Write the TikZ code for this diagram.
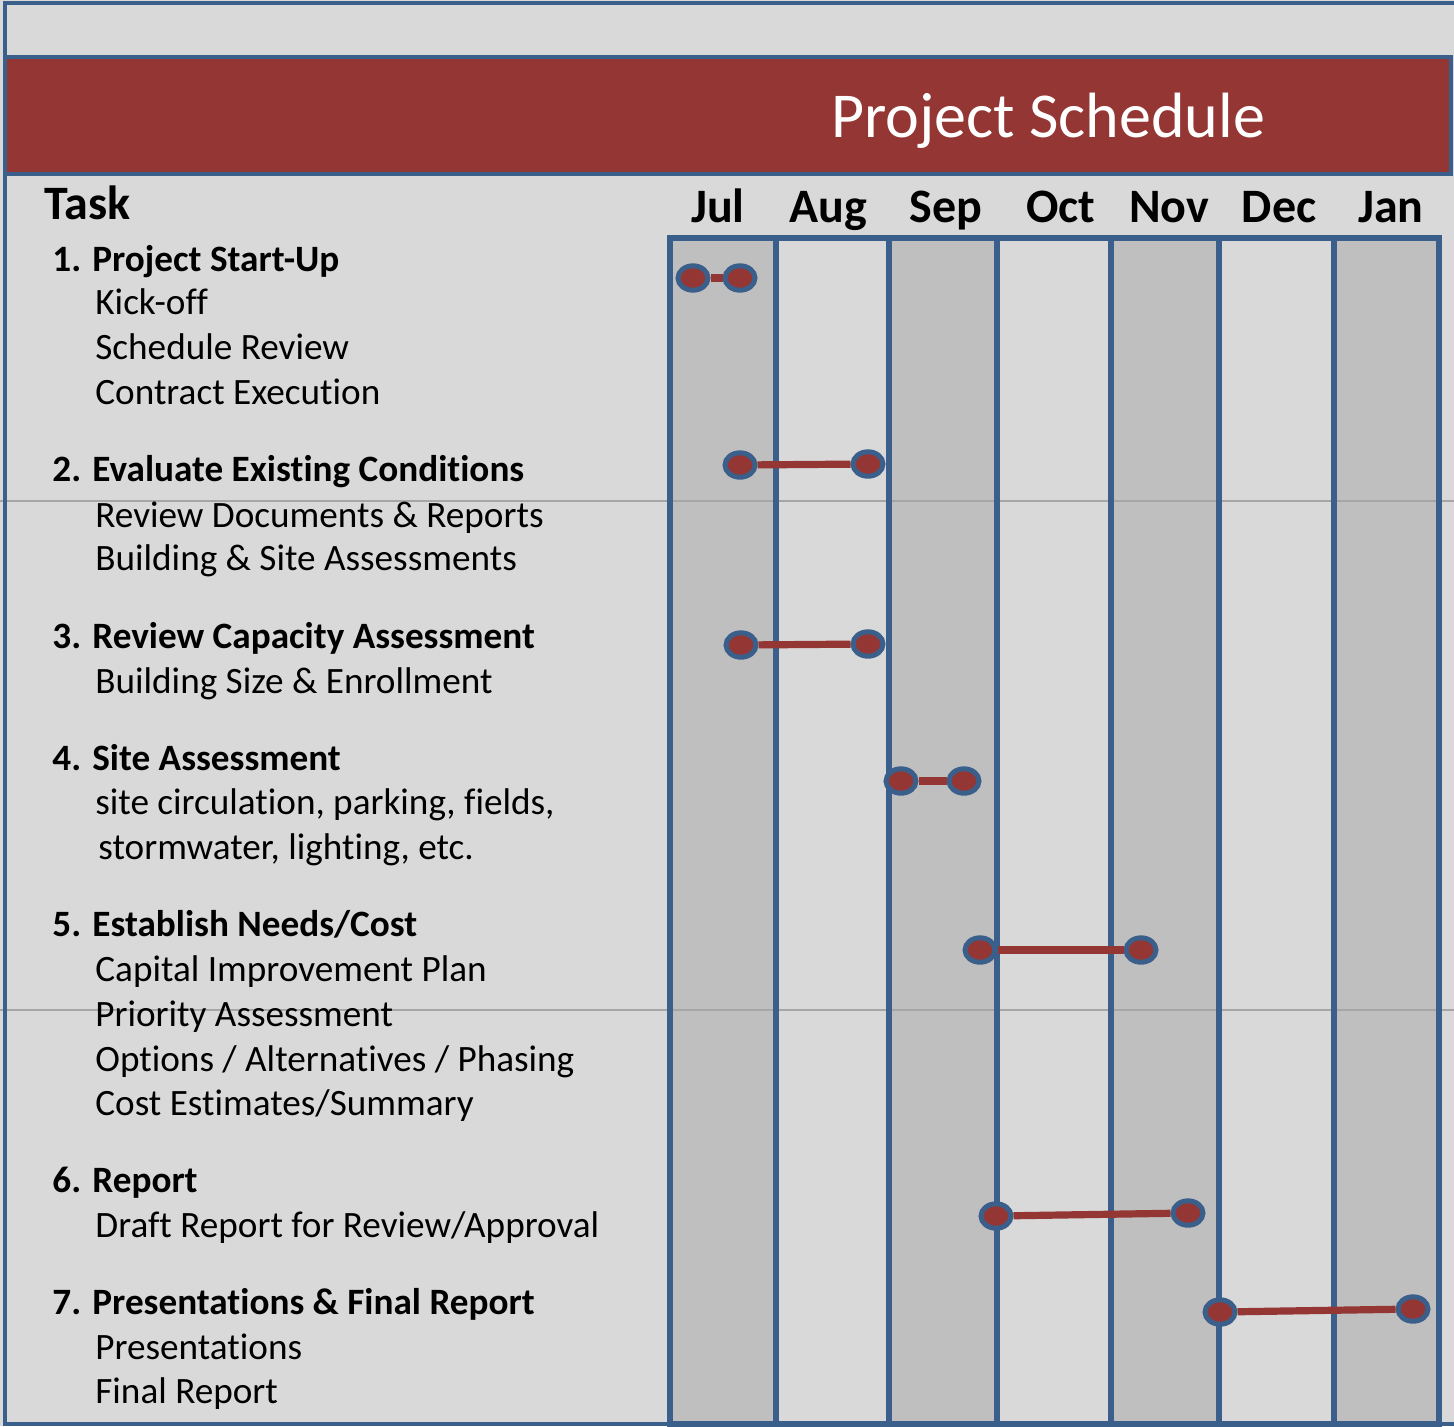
\documentclass[tikz,border=0pt]{standalone}
\usepackage{fontspec}
\setmainfont{Carlito}[Ligatures=NoCommon]
\usepackage{tikz}
\usetikzlibrary{shapes.geometric,positioning}

\definecolor{brickred}{HTML}{943634}
\definecolor{frameblue}{HTML}{3A5F8B}
\definecolor{bandgray}{HTML}{BFBFBF}
\definecolor{panelgray}{HTML}{D9D9D9}
\definecolor{rulegray}{HTML}{A6A6A6}

\begin{document}
\begin{tikzpicture}[
  x=0.5pt, y=-0.5pt,
  font=\fontsize{18.6}{22}\selectfont,
  frame/.style={draw=frameblue, line width=2.2pt},
  band/.style={draw=frameblue, line width=2.8pt, fill=bandgray},
  gap/.style={draw=frameblue, line width=2.8pt, fill=panelgray},
  month/.style={anchor=base, inner sep=0pt, font=\fontsize{24}{28}\selectfont\bfseries},
  head/.style={anchor=base west, inner sep=0pt, font=\fontsize{18.6}{22}\selectfont\bfseries},
  item/.style={anchor=base west, inner sep=0pt},
  ms/.style={ellipse, draw=frameblue, line width=2.5pt, fill=brickred,
             minimum width=15pt, minimum height=12.2pt, inner sep=0pt},
  bar/.style={draw=brickred, line width=3.6pt},
]
\useasboundingbox (0,0) rectangle (1454,1426);
\fill[panelgray] (0,0) rectangle (1454,1426);

% month columns
\draw[band] (670,238) rectangle (776,1424);
\draw[gap]  (776,238) rectangle (889,1424);
\draw[band] (889,238) rectangle (997,1424);
\draw[gap]  (997,238) rectangle (1111,1424);
\draw[band] (1111,238) rectangle (1219,1424);
\draw[gap]  (1219,238) rectangle (1334,1424);
\draw[band] (1334,238) rectangle (1439,1424);
\draw[rulegray, line width=1pt] (0,501) -- (1454,501);
\draw[rulegray, line width=1pt] (0,1010) -- (1454,1010);
\draw[frameblue, line width=2.8pt] (776,238) -- (776,1424) (889,238) -- (889,1424)
  (997,238) -- (997,1424) (1111,238) -- (1111,1424) (1219,238) -- (1219,1424)
  (1334,238) -- (1334,1424) (670,238) -- (670,1424) (1439,238) -- (1439,1424);

% outer frame and title bar
\draw[frame] (1454,3) -- (5,3) -- (5,1424) -- (1454,1424);
\draw[frame, fill=brickred] (5,57) rectangle (1451,174);
\node[anchor=base, inner sep=0pt, text=white, font=\fontsize{32}{38}\selectfont] (title) at (1048,137) {Project Schedule};

\node[anchor=base west, inner sep=0pt, font=\fontsize{24}{28}\selectfont\bfseries] (task) at (44,219) {Task};
\node[month] (jul) at (718,222) {Jul};
\node[month] (aug) at (828,222) {Aug};
\node[month] (sep) at (946,222) {Sep};
\node[month] (oct) at (1061,222) {Oct};
\node[month] (nov) at (1169,222) {Nov};
\node[month] (dec) at (1279,222) {Dec};
\node[month] (jan) at (1391,222) {Jan};

% task list
\node[head] (h1) at (52,271) {1. Project Start-Up};
\node[item] (h1a) at (95,314) {Kick-off};
\node[item] (h1b) at (95,359) {Schedule Review};
\node[item] (h1c) at (95,404) {Contract Execution};
\node[head] (h2) at (52,481) {2. Evaluate Existing Conditions};
\node[item] (h2a) at (95,527) {Review Documents \& Reports};
\node[item] (h2b) at (95,570) {Building \& Site Assessments};
\node[head] (h3) at (52,648) {3. Review Capacity Assessment};
\node[item] (h3a) at (95,693) {Building Size \& Enrollment};
\node[head] (h4) at (52,770) {4. Site Assessment};
\node[item] (h4a) at (95,814) {site circulation, parking, fields,};
\node[item] (h4b) at (98,859) {stormwater, lighting, etc.};
\node[head] (h5) at (52,936) {5. Establish Needs/Cost};
\node[item] (h5a) at (95,981) {Capital Improvement Plan};
\node[item] (h5b) at (95,1026) {Priority Assessment};
\node[item] (h5c) at (95,1071) {Options / Alternatives / Phasing};
\node[item] (h5d) at (95,1115) {Cost Estimates/Summary};
\node[head] (h6) at (52,1192) {6. Report};
\node[item] (h6a) at (95,1237) {Draft Report for Review/Approval};
\node[head] (h7) at (52,1314) {7. Presentations \& Final Report};
\node[item] (h7a) at (95,1359) {Presentations};
\node[item] (h7b) at (95,1403) {Final Report};

% milestones
\node[ms] (s1) at (693,278) {};
\node[ms] (e1) at (740,278) {};
\node[ms] (s2) at (740,465) {};
\node[ms] (e2) at (868,464) {};
\node[ms] (s3) at (741,645) {};
\node[ms] (e3) at (868,644) {};
\node[ms] (s4) at (901,781) {};
\node[ms] (e4) at (964,781) {};
\node[ms] (s5) at (980,950) {};
\node[ms] (e5) at (1141,950) {};
\node[ms] (s6) at (996,1216) {};
\node[ms] (e6) at (1188,1213) {};
\node[ms] (s7) at (1220,1312) {};
\node[ms] (e7) at (1413,1309) {};
\draw[bar] (s1) -- (e1);
\draw[bar] (s2) -- (e2);
\draw[bar] (s3) -- (e3);
\draw[bar] (s4) -- (e4);
\draw[bar] (s5) -- (e5);
\draw[bar] (s6) -- (e6);
\draw[bar] (s7) -- (e7);
\end{tikzpicture}
\end{document}
